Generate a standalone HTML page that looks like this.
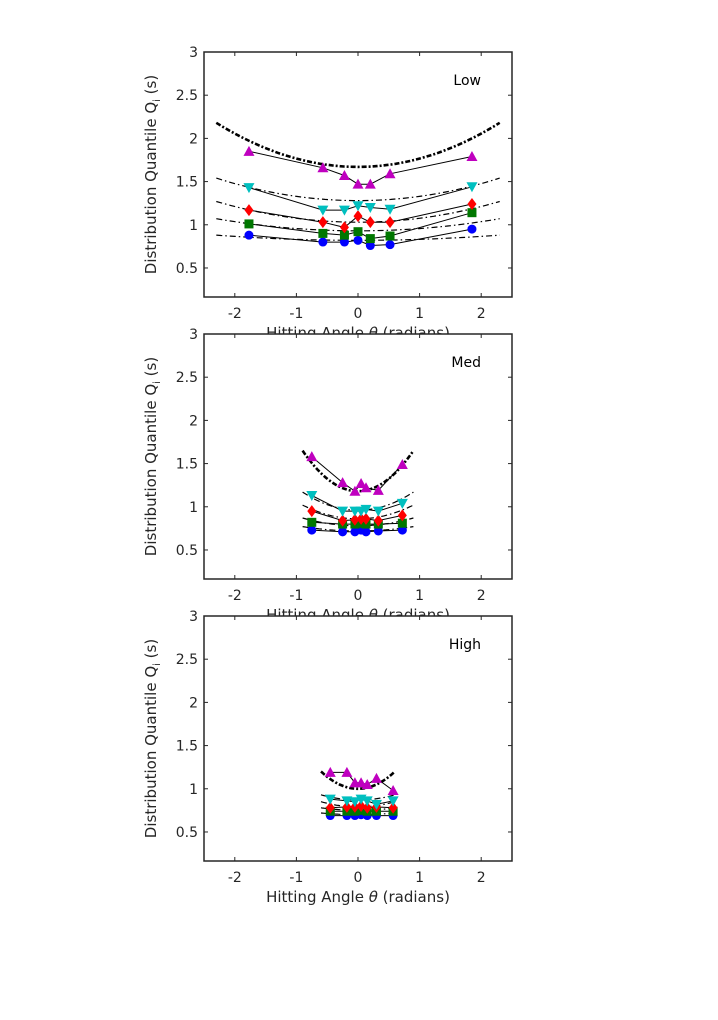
<!DOCTYPE html>
<html><head><meta charset="utf-8"><style>
body{margin:0;background:#fff;width:718px;height:1020px;overflow:hidden}
svg{display:block;font-family:"DejaVu Sans","Liberation Sans",sans-serif}
</style></head><body>
<svg id="fig" width="718" height="1020"></svg>
<script>
const NS="http://www.w3.org/2000/svg";
const colors=["#0000ff","#007700","#ff0000","#00bfbf","#bf00bf"];
const markers=["circle","square","diamond","tridown","triup"];
const xTicks=[-2,-1,0,1,2];
const yTicks=[0.5,1,1.5,2,2.5,3];
const panelLabels=["Low","Med","High"];
// Low
const xLow=[-1.77,-0.57,-0.22,0,0.2,0.52,1.85];
const yLow=[[0.88,0.80,0.80,0.82,0.76,0.77,0.95],[1.01,0.90,0.88,0.92,0.84,0.87,1.14],[1.17,1.03,0.97,1.10,1.03,1.03,1.24],[1.43,1.17,1.17,1.22,1.20,1.18,1.44],[1.85,1.66,1.57,1.47,1.47,1.59,1.79]];
const fitLowCenter=[0.82,0.93,1.03,1.28,1.67];
const fitLowEdge=[0.88,1.07,1.27,1.54,2.18];
const fitLowRange=2.3;
// Med
const xMed=[-0.75,-0.25,-0.05,0.05,0.13,0.33,0.72];
const yMed=[[0.73,0.71,0.71,0.73,0.71,0.72,0.73],[0.82,0.80,0.80,0.81,0.80,0.80,0.81],[0.95,0.84,0.85,0.86,0.86,0.84,0.90],[1.13,0.95,0.95,0.95,0.97,0.95,1.04],[1.58,1.28,1.18,1.27,1.22,1.19,1.49]];
const fitMedCenter=[0.72,0.78,0.86,0.96,1.18];
const fitMedEdge=[0.77,0.87,1.02,1.17,1.65];
const fitMedRange=0.9;
// High
const xHigh=[-0.45,-0.18,-0.05,0.05,0.15,0.3,0.57];
const yHigh=[[0.69,0.69,0.69,0.70,0.69,0.69,0.69],[0.74,0.74,0.74,0.75,0.74,0.74,0.74],[0.78,0.79,0.79,0.80,0.78,0.79,0.78],[0.88,0.86,0.85,0.88,0.86,0.82,0.86],[1.19,1.19,1.07,1.07,1.05,1.12,0.98]];
const fitHighCenter=[0.70,0.75,0.79,0.87,1.00];
const fitHighEdge=[0.72,0.78,0.85,0.93,1.20];
const fitHighRange=0.6;

const panels=[
 {top:52,x:xLow,y:yLow,fc:fitLowCenter,fe:fitLowEdge,fr:fitLowRange},
 {top:334,x:xMed,y:yMed,fc:fitMedCenter,fe:fitMedEdge,fr:fitMedRange},
 {top:616,x:xHigh,y:yHigh,fc:fitHighCenter,fe:fitHighEdge,fr:fitHighRange}];
const svg=document.getElementById("fig");
function el(t,a,p){const e=document.createElementNS(NS,t);for(const k in a)e.setAttribute(k,a[k]);(p||svg).appendChild(e);return e;}
const L=204,R=512,H=245,XMIN=-2.5,XMAX=2.5,YMIN=0.164,YMAX=3;
panels.forEach((P,pi)=>{
 const g=el("g",{});
 
 
 const T=P.top,B=T+H;
 const sx=v=>L+(v-XMIN)/(XMAX-XMIN)*(R-L);
 const sy=v=>B-(v-YMIN)/(YMAX-YMIN)*H;
 el("rect",{x:L,y:T,width:R-L,height:H,fill:"#fff"},g);
 xTicks.forEach(t=>{
  const X=sx(t);
  el("line",{x1:X,x2:X,y1:B,y2:B-4,stroke:"#262626"},g);
  el("line",{x1:X,x2:X,y1:T,y2:T+4,stroke:"#262626"},g);
  const tx=el("text",{x:X,y:B+21,"text-anchor":"middle","font-size":14,fill:"#262626"},g);
  tx.textContent=(t<0?"-"+(-t):t);
  
  
 });
 yTicks.forEach(t=>{
  const Y=sy(t);
  el("line",{x1:L,x2:L+4,y1:Y,y2:Y,stroke:"#262626"},g);
  el("line",{x1:R,x2:R-4,y1:Y,y2:Y,stroke:"#262626"},g);
  const tx=el("text",{x:L-6,y:Y+5,"text-anchor":"end","font-size":14,fill:"#262626"},g);
  tx.textContent=t;
  
  
 });
 const xl=el("text",{x:358,y:B+41,"text-anchor":"middle","font-size":15,fill:"#262626"},g);
 xl.innerHTML='Hitting Angle <tspan font-style="italic">θ</tspan> (radians)';
 
 
 const yl=el("text",{transform:`translate(156,${T+H/2}) rotate(-90)`,"text-anchor":"middle","font-size":15,fill:"#262626"},g);
 yl.innerHTML='Distribution Quantile Q<tspan font-size="10" dy="4">i</tspan><tspan dy="-4"> (s)</tspan>';
 
 
 const pl=el("text",{x:481,y:T+33,"text-anchor":"end","font-size":14,fill:"#000"},g);
 pl.textContent=panelLabels[pi];
 
 
 P.fc.forEach((c,i)=>{
  const b=(P.fe[i]-c)/(P.fr*P.fr);let d="";
  for(let k=0;k<=60;k++){const x=-P.fr+2*P.fr*k/60;d+=(k?"L":"M")+sx(x).toFixed(1)+","+sy(c+b*x*x).toFixed(1);}
  const f=el("path",{d,fill:"none",stroke:"#000","stroke-width":i==4?2.6:1.2,"stroke-dasharray":i==4?"5,2,2,2":"6,3,1.5,3"},g);
  
  
 });
 P.y.forEach((ser,i)=>{
  const d=ser.map((v,k)=>(k?"L":"M")+sx(P.x[k]).toFixed(1)+","+sy(v).toFixed(1)).join("");
  const ln=el("path",{d,fill:"none",stroke:"#000","stroke-width":1},g);
  
  
  ser.forEach((v,k)=>{
   const X=sx(P.x[k]),Y=sy(v),c=colors[i];let m;
   if(markers[i]=="circle")m=el("circle",{cx:X,cy:Y,r:4.5,fill:c},g);
   else if(markers[i]=="square")m=el("rect",{x:X-4.5,y:Y-4.5,width:9,height:9,fill:c},g);
   else if(markers[i]=="diamond")m=el("polygon",{points:`${X},${Y-6} ${X+4.5},${Y} ${X},${Y+6} ${X-4.5},${Y}`,fill:c},g);
   else if(markers[i]=="tridown")m=el("polygon",{points:`${X-5.5},${Y-4.5} ${X+5.5},${Y-4.5} ${X},${Y+5.5}`,fill:c},g);
   else m=el("polygon",{points:`${X-5.5},${Y+4.5} ${X+5.5},${Y+4.5} ${X},${Y-5.5}`,fill:c},g);
   
   
  });
 });
 el("rect",{x:L,y:T,width:R-L,height:H,fill:"none",stroke:"#262626","stroke-width":1.5},g);
});
</script>
</body></html>
